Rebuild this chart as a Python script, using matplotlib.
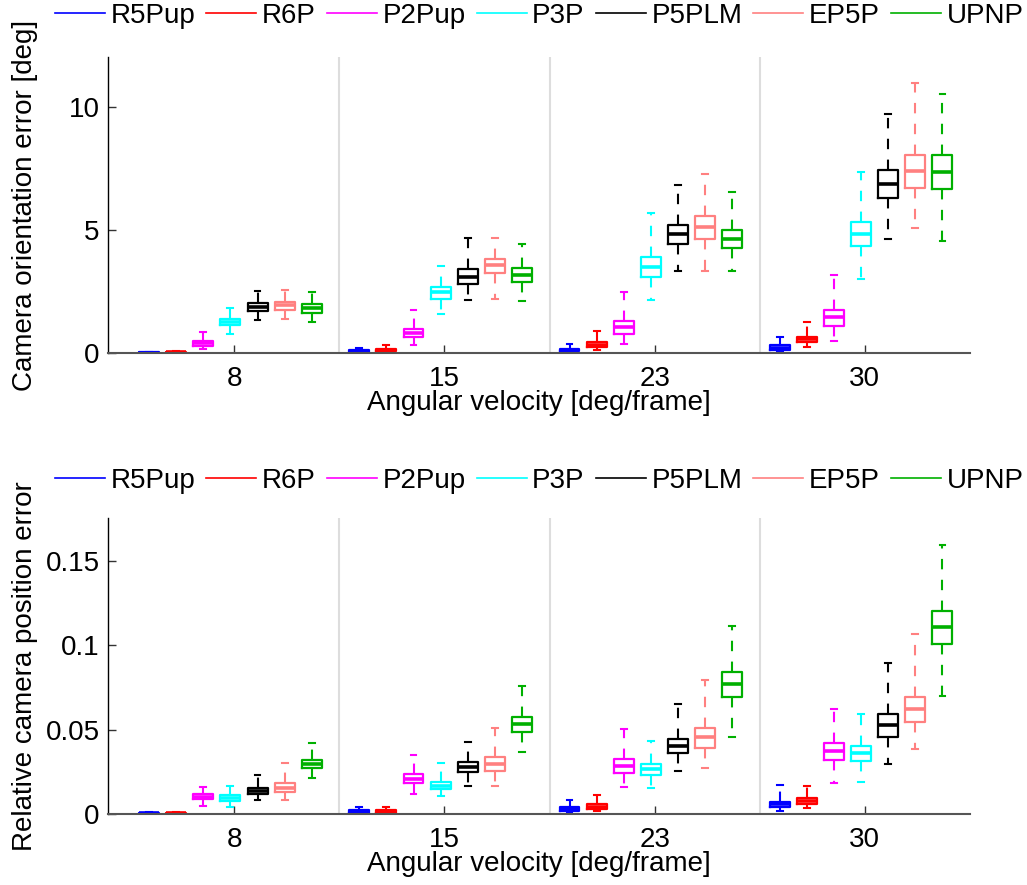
import matplotlib
matplotlib.use("Agg")
import matplotlib.pyplot as plt
from matplotlib.lines import Line2D

plt.rcParams['font.family'] = ['Liberation Sans', 'DejaVu Sans']

velocities = ["8", "15", "23", "30"]
methods = ["R5Pup", "R6P", "P2Pup", "P3P", "P5PLM", "EP5P", "UPNP"]
colors = ["#0000ff", "#ff0000", "#ff00ff", "#00ffff", "#000000", "#ff8080", "#00b000"]

# ---- Camera orientation error [deg] (rows: methods, cols: velocities)
rot_med = [[0.03, 0.07, 0.13, 0.23],
           [0.04, 0.13, 0.35, 0.56],
           [0.40, 0.83, 1.07, 1.46],
           [1.27, 2.47, 3.50, 4.85],
           [1.86, 3.10, 4.82, 6.86],
           [1.94, 3.58, 5.10, 7.40],
           [1.82, 3.17, 4.63, 7.34]]
rot_q1 = [[0.01, 0.02, 0.08, 0.14],
          [0.02, 0.08, 0.25, 0.44],
          [0.30, 0.67, 0.80, 1.11],
          [1.15, 2.22, 3.09, 4.36],
          [1.70, 2.80, 4.43, 6.29],
          [1.77, 3.24, 4.63, 6.72],
          [1.64, 2.87, 4.26, 6.66]]
rot_q3 = [[0.05, 0.12, 0.19, 0.33],
          [0.06, 0.18, 0.44, 0.66],
          [0.50, 1.00, 1.30, 1.75],
          [1.41, 2.70, 3.89, 5.32],
          [2.02, 3.40, 5.19, 7.44],
          [2.09, 3.82, 5.55, 8.04],
          [1.98, 3.44, 5.00, 8.02]]
rot_lo = [[0.00, 0.00, 0.02, 0.06],
          [0.00, 0.03, 0.13, 0.26],
          [0.17, 0.33, 0.38, 0.50],
          [0.77, 1.59, 2.17, 3.02],
          [1.34, 2.15, 3.33, 4.63],
          [1.38, 2.22, 3.32, 5.09],
          [1.25, 2.13, 3.32, 4.55]]
rot_hi = [[0.07, 0.23, 0.39, 0.68],
          [0.09, 0.33, 0.91, 1.26],
          [0.87, 1.75, 2.50, 3.16],
          [1.82, 3.55, 5.70, 7.33],
          [2.53, 4.67, 6.83, 9.70],
          [2.56, 4.67, 7.26, 10.94],
          [2.49, 4.43, 6.53, 10.53]]

# ---- Relative camera position error
pos_med = [[0.0005, 0.0015, 0.0031, 0.0059],
           [0.0005, 0.0017, 0.0045, 0.0081],
           [0.0104, 0.0211, 0.0286, 0.0377],
           [0.0095, 0.0170, 0.0267, 0.0361],
           [0.0138, 0.0280, 0.0406, 0.0531],
           [0.0158, 0.0298, 0.0456, 0.0624],
           [0.0298, 0.0533, 0.0770, 0.1111]]
pos_q1 = [[0.0002, 0.0006, 0.0020, 0.0041],
          [0.0002, 0.0008, 0.0031, 0.0061],
          [0.0089, 0.0184, 0.0247, 0.0323],
          [0.0077, 0.0148, 0.0233, 0.0314],
          [0.0118, 0.0249, 0.0361, 0.0460],
          [0.0130, 0.0258, 0.0395, 0.0547],
          [0.0272, 0.0486, 0.0693, 0.1007]]
pos_q3 = [[0.0008, 0.0025, 0.0041, 0.0075],
          [0.0008, 0.0025, 0.0059, 0.0095],
          [0.0120, 0.0239, 0.0326, 0.0424],
          [0.0113, 0.0191, 0.0296, 0.0405],
          [0.0156, 0.0310, 0.0448, 0.0596],
          [0.0184, 0.0338, 0.0513, 0.0697],
          [0.0322, 0.0575, 0.0841, 0.1206]]
pos_lo = [[0.0000, 0.0000, 0.0012, 0.0020],
          [0.0000, 0.0003, 0.0021, 0.0036],
          [0.0049, 0.0118, 0.0164, 0.0187],
          [0.0045, 0.0110, 0.0154, 0.0191],
          [0.0085, 0.0168, 0.0258, 0.0296],
          [0.0085, 0.0168, 0.0272, 0.0389],
          [0.0215, 0.0371, 0.0458, 0.0703]]
pos_hi = [[0.0012, 0.0045, 0.0085, 0.0174],
          [0.0012, 0.0041, 0.0113, 0.0168],
          [0.0160, 0.0350, 0.0505, 0.0624],
          [0.0168, 0.0302, 0.0434, 0.0594],
          [0.0231, 0.0427, 0.0653, 0.0895],
          [0.0302, 0.0513, 0.0796, 0.1066],
          [0.0420, 0.0760, 0.1117, 0.1595]]

FS = 20
fig = plt.figure(figsize=(10.27, 8.85), dpi=100)
ax_top = fig.add_axes([0.1052, 0.6008, 0.8393, 0.3345])
ax_bot = fig.add_axes([0.1052, 0.0799, 0.8393, 0.3345])


def draw(ax, med, q1, q3, lo, hi, ylim, yticks, yticklabels, ylabel, legend_y):
    n_groups = len(velocities)
    for sep in [1.5, 2.5, 3.5]:
        ax.axvline(sep, color="#dddddd", lw=1.5, zorder=0)
    for m, (name, c) in enumerate(zip(methods, colors)):
        stats = []
        for g in range(n_groups):
            stats.append(dict(med=med[m][g], q1=q1[m][g], q3=q3[m][g],
                              whislo=lo[m][g], whishi=hi[m][g], fliers=[]))
        pos = [g + 1 - 0.405 + 0.129 * m for g in range(n_groups)]
        ax.bxp(stats, positions=pos, widths=0.095, capwidths=0.028,
               showfliers=False, manage_ticks=False,
               boxprops=dict(color=c, lw=1.6),
               whiskerprops=dict(color=c, lw=1.5, linestyle=(0, (5, 5))),
               capprops=dict(color=c, lw=1.5),
               medianprops=dict(color=c, lw=2.6))
    ax.set_xlim(0.4, 4.5)
    ax.set_ylim(*ylim)
    ax.set_xticks(range(1, n_groups + 1))
    ax.set_xticklabels(velocities)
    ax.set_yticks(yticks)
    ax.set_yticklabels(yticklabels)
    ax.tick_params(direction="in", length=6, width=1, labelsize=FS, color="#333333")
    ax.tick_params(axis="x", pad=9)
    ax.tick_params(axis="y", pad=6)
    for s in ["top", "right"]:
        ax.spines[s].set_visible(False)
    ax.spines["left"].set_color("#000000")
    ax.spines["bottom"].set_color("#555555")
    ax.spines["left"].set_linewidth(1.0)
    ax.spines["bottom"].set_linewidth(1.5)
    ax.set_xlabel("Angular velocity [deg/frame]", fontsize=FS)
    ax.xaxis.set_label_coords(0.5, -0.125)
    ax.set_ylabel(ylabel, fontsize=FS)
    ax.yaxis.set_label_coords(-0.081, 0.5)
    handles = [Line2D([], [], color=c, lw=1.2) for c in colors]
    ax.legend(handles, methods, loc="center", ncol=7, frameon=False,
              bbox_to_anchor=(0.525, legend_y), bbox_transform=fig.transFigure,
              fontsize=FS, handlelength=1.8, handletextpad=0.2,
              columnspacing=0.4, borderaxespad=0)


draw(ax_top, rot_med, rot_q1, rot_q3, rot_lo, rot_hi, (0, 12),
     [0, 5, 10], ["0", "5", "10"], "Camera orientation error [deg]", 1 - 16 / 885)
draw(ax_bot, pos_med, pos_q1, pos_q3, pos_lo, pos_hi, (0, 0.1753),
     [0, 0.05, 0.1, 0.15], ["0", "0.05", "0.1", "0.15"],
     "Relative camera position error", 1 - 481 / 885)

fig.savefig("out.png", dpi=100)
